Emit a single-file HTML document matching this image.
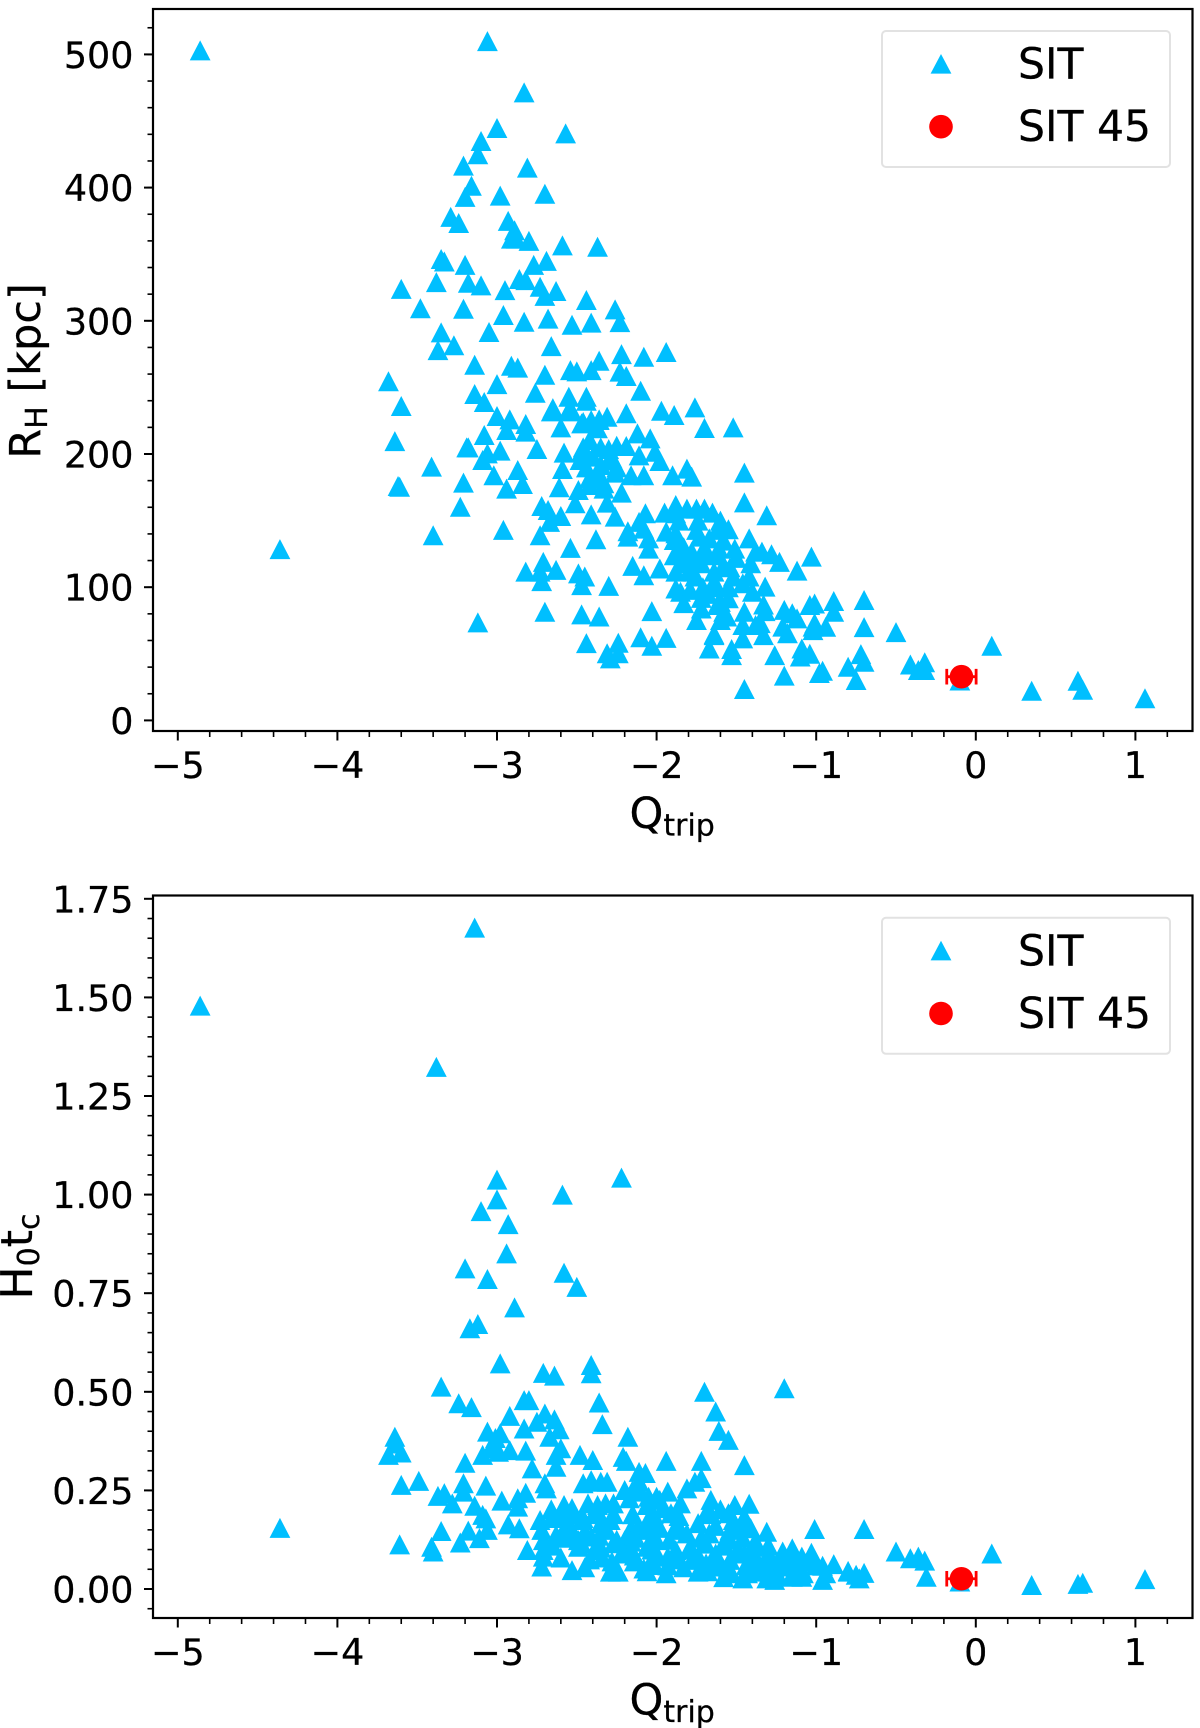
<!DOCTYPE html>
<html lang="en">
<head>
<meta charset="utf-8">
<title>RH and H0tc versus Qtrip</title>
<style>
  html, body { margin: 0; padding: 0; background: #fff; }
  svg { display: block; }
  text { font-family: "DejaVu Sans", "Liberation Sans", sans-serif; fill: #000; stroke: #000; stroke-width: 0.25px; }
  .tick { font-size: 36.5px; }
  .title { font-size: 43px; }
  .leg { font-size: 42.5px; }
  .sub { font-size: 30px; }
</style>
</head>
<body>
<svg id="fig" xmlns="http://www.w3.org/2000/svg" width="1200" height="1728" viewBox="0 0 1200 1728">
  <rect x="0" y="0" width="1200" height="1728" fill="#fff"/>
  <g id="panelTop"></g>
  <g id="panelBottom"></g>

  <text class="title" transform="translate(40,371) rotate(-90)" text-anchor="middle">R<tspan class="sub" dy="7">H</tspan><tspan dy="-7"> [kpc]</tspan></text>
  <text class="title" x="629.5" y="828">Q<tspan class="sub" dy="7.5">trip</tspan></text>
  <text class="title" style="font-size:44px" transform="translate(32,1256.5) rotate(-90)" text-anchor="middle">H<tspan class="sub" dy="7">0</tspan><tspan dy="-7">t</tspan><tspan class="sub" dy="7">c</tspan></text>
  <text class="title" x="629.5" y="1714.5">Q<tspan class="sub" dy="7.5">trip</tspan></text>

  <g>
    <rect x="882" y="31" width="288" height="136" rx="4" ry="4" fill="#fff" stroke="#e2e2e2" stroke-width="2"/>
    <polygon points="941,54 951.4,73.6 930.6,73.6" fill="#00BFFF"/>
    <text class="leg" x="1018" y="78.5">SIT</text>
    <circle cx="941" cy="126.7" r="11.8" fill="#FF0000"/>
    <text class="leg" x="1018" y="141">SIT 45</text>
  </g>
  <g transform="translate(0,886.8)">
    <rect x="882" y="31" width="288" height="136" rx="4" ry="4" fill="#fff" stroke="#e2e2e2" stroke-width="2"/>
    <polygon points="941,54 951.4,73.6 930.6,73.6" fill="#00BFFF"/>
    <text class="leg" x="1018" y="78.5">SIT</text>
    <circle cx="941" cy="126.7" r="11.8" fill="#FF0000"/>
    <text class="leg" x="1018" y="141">SIT 45</text>
  </g>
</svg>

<script>
const xTickValues = [-5, -4, -3, -2, -1, 0, 1];
const rhTickValues = [0, 100, 200, 300, 400, 500];
const tcTickValues = [0, 0.25, 0.5, 0.75, 1, 1.25, 1.5, 1.75];
const tcTickLabels = ['0.00', '0.25', '0.50', '0.75', '1.00', '1.25', '1.50', '1.75'];

const rhQtrip = [
-4.86,-3.06,-2.83,-3.00,-2.57,-3.10,-3.12,-3.21,-2.81,-3.16,
-2.98,-2.70,-3.20,-3.29,-3.24,-2.93,-2.89,-2.91,-2.88,-2.80,
-2.59,-2.37,-3.35,-3.33,-3.20,-2.77,-2.69,-3.60,-3.38,-3.18,
-3.10,-2.86,-2.82,-2.95,-2.73,-2.63,-2.70,-2.44,-3.48,-3.21,
-2.96,-2.83,-2.68,-2.53,-2.41,-3.05,-3.35,-3.27,-3.37,-2.66,
-3.14,-2.91,-2.87,-2.54,-2.50,-2.41,-2.70,-3.68,-3.00,-2.76,
-2.44,-2.55,-3.14,-3.08,-3.60,-2.65,-2.66,-3.00,-2.92,-2.82,
-2.46,-2.55,
-2.26,-2.23,-2.22,-2.08,-1.94,-2.23,-2.19,-2.10,-2.36,-1.97,
-1.89,-1.76,-2.19,-2.31,-2.36,-1.70,-1.52,
-3.08,-2.94,-2.82,-3.19,-3.06,-2.98,-3.09,-2.75,-3.41,-3.02,
-2.87,-3.21,-2.84,-2.94,-2.58,-2.59,-2.61,-2.48,-2.47,-2.42,
-2.37,-2.60,-2.30,-2.26,-2.35,-2.42,-2.49,-2.33,-2.22,-2.19,
-2.25,-2.12,-2.04,-2.11,-2.01,-1.98,-2.16,-2.08,-1.90,-1.81,
-1.78,-2.47,-2.41,-2.36,-2.44,-2.53,
-2.31,-2.51,-2.72,-2.68,-2.60,-2.67,-2.41,-2.26,-2.73,-2.38,
-2.54,-2.96,-2.71,-2.82,-2.73,-2.72,-2.63,-2.49,-2.45,-2.47,
-2.30,-2.70,-2.47,-2.36,-2.03,-2.44,-2.24,-2.31,-2.24,-2.29,
-2.10,-1.94,-2.03,-1.67,-1.64,-1.53,-1.53,-1.26,-1.20,-1.45,
-1.09,-1.04,-1.10,-0.98,
-2.18,-2.18,-2.11,-2.07,-2.15,-2.08,-1.98,-2.05,-2.05,-2.08,
-1.95,-1.88,-1.88,-1.75,-1.81,-1.70,-1.65,-1.94,-1.88,-1.89,
-1.86,-1.89,-1.75,-1.73,-1.67,-1.62,-1.55,-1.61,-1.51,-1.63,
-1.54,-1.58,-1.78,-1.78,-1.88,-1.79,-1.77,-1.64,-1.64,-1.46,
-1.40,-1.32,-1.88,-1.85,-1.79,-1.83,-1.60,-1.55,-1.62,-1.72,
-1.75,-1.58,-1.60,-1.45,-1.38,-1.35,-1.46,-1.64,-1.46,-1.33,
-1.33,-1.42,-1.38,-1.34,-1.28,-1.23,-1.41,-1.12,-1.03,-1.45,
-1.31,-1.20,-1.15,-1.12,-1.21,-1.18,-1.04,-1.01,-1.02,
-1.45,-0.70,-0.89,-0.89,-0.70,-0.50,0.10,-0.94,-1.01,-1.02,
-0.72,-0.70,-0.80,-0.75,-0.96,-0.41,-0.32,-0.36,-0.32,-0.10,
0.35,0.64,0.67,1.06,
-3.64,-3.18,-3.62,-3.61,-3.23,-3.40,-4.36,-3.12,
-1.86,-1.83,-1.74,-1.70,-1.60,-1.72,-1.68,-1.58,-1.52,-1.84,
-1.76,-1.71,-1.55,-1.50,-1.68,-1.62,-1.56,-1.72,-1.42,-1.32,
-2.46,-2.40,-2.35,-2.30,-2.44,-2.36,-2.28,-2.42,-2.33,-2.25
];
const rhValues = [
503,510,471.5,444.7,440.7,435,425,416.5,415,401.4,
394,395.4,393,378,373.4,375,368,361.7,361.7,360,
356.6,355.6,346.4,344.5,342,342,345,324,329,328.6,
326.6,331.4,330.5,323,325.6,322.4,318.7,315.6,309.4,309,
304.4,299.3,301.6,297,298.6,291.6,291.3,281.6,278,281,
267,266.3,264.8,263,262,263,259.5,254.6,252.5,246,
243,243,245,239,236,234.4,232,228.5,226,222.5,
224,233,
308.6,299,275,273,276.6,261.8,258.6,247.5,270,232.5,
229.3,235,230.6,228,225.5,219.5,220,
214.3,218,216.8,205,200.5,202.5,195.5,203.8,190.5,184,
188,178.5,177.5,174,201,188.7,175,195.5,201.7,210.5,
219.3,220,203.7,186,191.7,176.7,173,174,171,206,
206.2,215.5,211.7,199,201.7,194.7,184,184,184,189,
183,223,225.5,226,240,232,
163.5,163,161,158,153.5,149,154.7,153,139,136,
129.5,143,119,111.7,111.7,104.6,113,110.4,108,101.6,
101,81.6,79.6,78,82,58,58.3,50.4,50.4,46.6,
62.4,62,56,54,64.8,53.6,49,49,33.6,23.6,
54,50,48,35.6,
142,138,149,155.5,116,109,114,136.7,129,144,
156,161.7,155.5,159,159,159,156,141.7,140.5,135.4,
129,124,143,138,136.7,143,143.5,129,129,124,
115,116.7,126.7,120,111.7,114,111.7,111.7,104,103,
96.6,100.4,99,96.6,98,88,89,91.7,86.6,84,
75.4,81.6,75.4,81.6,71.6,73,71.6,64,61.6,64,
87,136.7,126.7,126.7,124.7,119,118,112.4,123,163.7,
154,83,80.4,76.6,70.4,65.4,86.6,87.8,70.4,
186,90.4,89.6,81.6,70,66.3,56,70.3,73,67.8,
49.8,44,40.3,30.3,37.3,42,43.7,37.8,37.8,30,
22.3,29.8,23,16.6,
209.7,205,176,175.4,160.4,139,128.6,73.6,
150,130,150,130,150,118,125,135,108,118,
108,100,100,122,95,100,78,92,108,82,
205,198,205,195,190,183,197,182,178,190
];

const tcQtrip = [
-3.14,-4.86,-3.38,-3.00,-3.00,-2.59,-3.10,-2.93,-2.94,-3.20,
-3.06,-2.58,-2.50,-2.22,-2.89,-3.12,-3.17,-2.98,-2.71,-2.64,
-2.41,-2.41,-3.35,-3.24,-3.16,-4.36,
-2.83,-2.80,-2.92,-2.36,-2.34,-2.18,-2.70,-2.64,-2.75,-2.83,
-2.61,-2.67,-3.06,-3.01,-2.98,-3.64,-3.64,-3.68,-3.60,-3.09,
-3.04,-2.99,-2.92,-2.82,-2.60,-2.63,-3.20,-2.78,-2.63,-2.48,
-2.40,-2.21,-2.19,-3.60,-3.49,-3.21,-3.21,-3.07,-2.70,-2.69,
-2.46,-2.41,-2.35,-2.31,-2.11,-2.07,-2.11,-2.20,-2.82,-3.37,
-3.33,-3.28,-2.97,-2.87,-3.14,-3.09,-3.07,-2.87,-2.93,-2.86,
-3.06,-3.11,-3.18,-3.23,-3.35,-3.41,-3.40,-3.61,-2.66,-2.73,
-2.72,-2.58,-2.53,-2.43,-2.37,-2.32,-2.27,-2.06,-2.00,-2.17,
-2.15,-2.63,-2.71,-2.81,-2.71,-2.71,-2.72,-2.53,-2.45,-2.29,
-2.24,-2.49,-2.49,-2.39,-2.41,-2.31,-2.27,-2.16,-2.18,-2.22,
-2.06,-2.06,-2.08,-2.03,-2.00,-2.57,-2.47,-2.35,-2.29,-2.39,
-1.70,-1.20,-1.63,-1.61,-1.55,-1.45,-1.94,-1.72,-0.70,-1.01,
-1.42,-1.51,-1.60,-1.66,-1.81,-1.76,-1.72,-1.93,-1.98,-2.05,
-2.10,-1.31,-1.41,-1.48,-1.54,-1.21,-1.15,-1.03,-1.09,-0.96,
-0.89,-0.80,-0.75,-0.70,-0.73,-0.96,-1.09,-1.26,-1.46,-1.53,
-1.74,-1.94,-1.39,-1.33,-1.31,-1.40,-1.50,-1.60,-1.63,-1.58,
-1.67,-1.74,-1.79,-1.81,-1.78,-1.88,-1.88,-1.91,-1.96,-1.85,
-2.20,-1.93,-2.02,-1.69,-1.55,-1.45,-1.69,-1.54,-1.45,-1.37,
-1.21,-1.15,-1.02,-1.31,-1.15,
-0.50,-0.41,-0.36,-0.32,-0.31,0.10,0.35,0.64,0.67,1.06,
-0.10,-0.80,
-2.15,-2.02,-1.86,-1.66,-1.52,-1.44,-2.12,-1.98,-1.85,-1.72,
-1.63,-1.54,-1.46,-1.38,-1.30,-2.16,-2.04,-1.92,-1.79,-1.69,
-1.58,-1.49,-1.41,-1.28,-1.21,-1.13,-2.14,-2.00,-1.86,-1.74,
-1.66,-1.55,-1.44,-1.36,-1.26,-1.10,-1.00,-2.06,-1.93,-1.83,
-1.68,-1.58,-1.43,-1.30,-1.24,-1.14,-1.08,-0.94,
-2.66,-2.60,-2.53,-2.46,-2.36,-2.27,-2.15,-2.60,-2.53,-2.45,
-2.36,-2.25,-2.13,-2.06,-2.65,-2.56,-2.47,-2.35,-2.25,-2.16,
-2.00,-2.42,-2.34,-2.28,-2.14,-2.60,-2.03
];
const tcValues = [
1.677,1.479,1.324,1.038,0.988,1.000,0.958,0.925,0.851,0.813,
0.786,0.802,0.766,1.043,0.714,0.672,0.661,0.572,0.548,0.541,
0.568,0.547,0.513,0.471,0.461,0.155,
0.479,0.479,0.439,0.473,0.418,0.386,0.445,0.430,0.424,0.407,
0.405,0.386,0.399,0.383,0.395,0.386,0.369,0.340,0.346,0.340,
0.357,0.348,0.352,0.351,0.357,0.340,0.320,0.306,0.310,0.340,
0.327,0.335,0.325,0.264,0.274,0.268,0.247,0.262,0.268,0.255,
0.268,0.276,0.272,0.272,0.297,0.294,0.272,0.251,0.244,0.236,
0.243,0.217,0.224,0.230,0.211,0.188,0.179,0.209,0.164,0.154,
0.150,0.129,0.148,0.118,0.147,0.107,0.095,0.113,0.202,0.175,
0.150,0.213,0.205,0.217,0.213,0.217,0.217,0.213,0.234,0.230,
0.251,0.137,0.124,0.099,0.099,0.082,0.057,0.048,0.055,0.044,
0.044,0.107,0.124,0.099,0.133,0.150,0.116,0.154,0.107,0.090,
0.150,0.107,0.052,0.074,0.124,0.158,0.175,0.167,0.175,0.192,
0.500,0.509,0.450,0.401,0.378,0.314,0.325,0.325,0.152,0.152,
0.216,0.213,0.202,0.226,0.255,0.272,0.281,0.247,0.226,0.234,
0.247,0.145,0.154,0.158,0.150,0.095,0.103,0.092,0.082,0.059,
0.063,0.044,0.036,0.041,0.027,0.023,0.031,0.023,0.027,0.040,
0.044,0.040,0.044,0.048,0.082,0.107,0.090,0.057,0.090,0.116,
0.141,0.167,0.107,0.141,0.074,0.099,0.158,0.192,0.205,0.217,
0.124,0.082,0.061,0.192,0.192,0.183,0.065,0.074,0.090,0.074,
0.057,0.065,0.069,0.027,0.031,
0.095,0.078,0.082,0.072,0.031,0.090,0.010,0.013,0.016,0.025,
0.019,0.046,
0.190,0.190,0.185,0.190,0.175,0.170,0.155,0.155,0.150,0.130,
0.160,0.125,0.130,0.120,0.110,0.120,0.115,0.125,0.100,0.115,
0.110,0.100,0.095,0.075,0.075,0.080,0.085,0.090,0.075,0.085,
0.070,0.055,0.060,0.060,0.050,0.050,0.060,0.045,0.060,0.055,
0.045,0.030,0.040,0.050,0.035,0.045,0.040,0.040,
0.180,0.185,0.190,0.180,0.190,0.190,0.190,0.135,0.150,0.145,
0.135,0.125,0.130,0.170,0.110,0.130,0.115,0.105,0.120,0.100,
0.170,0.075,0.080,0.070,0.070,0.080,0.100
];

const sit45Q = -0.09;
const sit45QErr = 0.092;
const sit45Rh = 32.8;
const sit45Tc = 0.026;

const SVGNS = 'http://www.w3.org/2000/svg';
const X0 = 975.8, XU = 159.6;
const xScale = function (v) { return X0 + XU * v; };
const rhScale = function (v) { return 720.4 - 1.332 * v; };
const tcScale = function (v) { return 1589 - 394.4 * v; };
const AX_LEFT = 153, AX_RIGHT = 1192.5;

function make(parent, tag, attrs, txt) {
  const el = document.createElementNS(SVGNS, tag);
  for (const k in attrs) el.setAttribute(k, attrs[k]);
  if (txt !== undefined) el.textContent = txt;
  parent.appendChild(el);
  return el;
}

function drawPanel(parent, top, bottom, yScale, qs, vs, pointY, yMajor, yLabels, yMinorStart, yMinorStep, yMinorCount) {
  // series
  const pts = make(parent, 'g', {});
  
  
  const n = Math.min(qs.length, vs.length);
  for (let i = 0; i < n; i++) {
    const cx = xScale(qs[i]), cy = yScale(vs[i]);
    const p = make(pts, 'polygon', {
      points: cx + ',' + (cy - 10) + ' ' + (cx + 10.4) + ',' + (cy + 10) + ' ' + (cx - 10.4) + ',' + (cy + 10),
      fill: '#00BFFF'
    });
    
    
  }

  // highlighted point with error bar
  const hy = yScale(pointY);
  const lo = xScale(sit45Q - sit45QErr), hi = xScale(sit45Q + sit45QErr);
  const eb = make(parent, 'path', {
    d: 'M' + lo + ' ' + hy + 'H' + hi + 'M' + lo + ' ' + (hy - 7.8) + 'V' + (hy + 7.8) + 'M' + hi + ' ' + (hy - 7.8) + 'V' + (hy + 7.8),
    stroke: '#FF0000', 'stroke-width': 2.8, fill: 'none'
  });
  
  
  const c = make(parent, 'circle', { cx: xScale(sit45Q), cy: hy, r: 11.8, fill: '#FF0000' });
  
  

  // frame
  const fr = make(parent, 'rect', { x: AX_LEFT, y: top, width: AX_RIGHT - AX_LEFT, height: bottom - top, fill: 'none', stroke: '#000', 'stroke-width': 2.2 });
  
  

  // x minor ticks
  for (let i = 0; i <= 31; i++) {
    const v = -5 + i * 0.2;
    if (i % 5 === 0) continue;
    const t = make(parent, 'line', { x1: xScale(v), x2: xScale(v), y1: bottom, y2: bottom + 6, stroke: '#000', 'stroke-width': 1.6 });
    
    
  }
  // x major ticks and labels
  xTickValues.forEach(function (v) {
    const t = make(parent, 'line', { x1: xScale(v), x2: xScale(v), y1: bottom, y2: bottom + 9.5, stroke: '#000', 'stroke-width': 2 });
    
    
    const l = make(parent, 'text', { x: xScale(v), y: bottom + 47, 'text-anchor': 'middle', class: 'tick' }, String(v).replace('-', '\u2212'));
    
    
  });
  // y minor ticks
  for (let i = 0; i < yMinorCount; i++) {
    const v = yMinorStart + i * yMinorStep;
    const t = make(parent, 'line', { x1: AX_LEFT - 5.5, x2: AX_LEFT, y1: yScale(v), y2: yScale(v), stroke: '#000', 'stroke-width': 1.6 });
    
    
  }
  // y major ticks and labels
  yMajor.forEach(function (v, i) {
    const t = make(parent, 'line', { x1: AX_LEFT - 9, x2: AX_LEFT, y1: yScale(v), y2: yScale(v), stroke: '#000', 'stroke-width': 2 });
    
    
    const l = make(parent, 'text', { x: 133.5, y: yScale(v) + 13.5, 'text-anchor': 'end', class: 'tick' }, yLabels[i]);
    
    
  });
}

drawPanel(document.getElementById('panelTop'), 9, 731, rhScale, rhQtrip, rhValues, sit45Rh,
  rhTickValues, rhTickValues.map(String), 20, 20, 26);
drawPanel(document.getElementById('panelBottom'), 895.5, 1618, tcScale, tcQtrip, tcValues, sit45Tc,
  tcTickValues, tcTickLabels, -0.05, 0.05, 36);
</script>
</body>
</html>
